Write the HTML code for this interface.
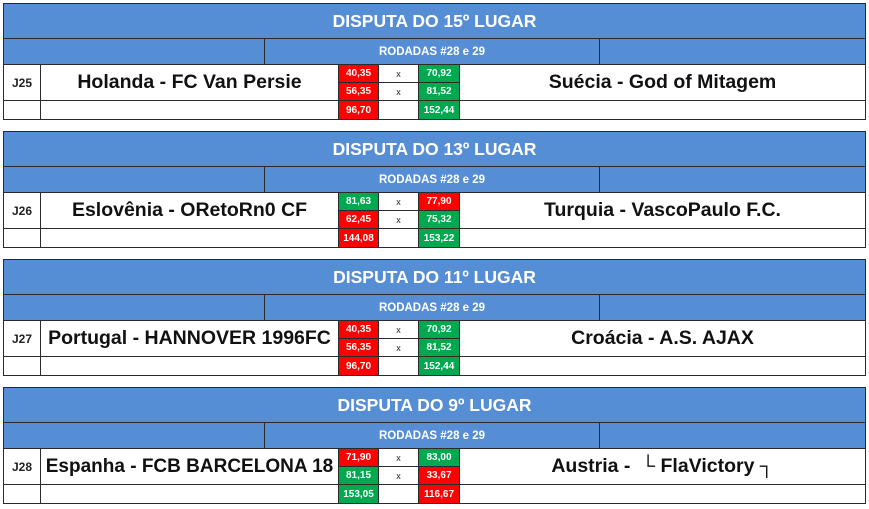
<!DOCTYPE html>
<html><head><meta charset="utf-8"><style>
body{margin:0;width:869px;height:509px;background:#fff;position:relative;overflow:hidden;font-family:"Liberation Sans",Arial,sans-serif;}
.b{position:absolute;left:3px;width:863px;height:117px;}
.c{position:absolute;box-sizing:border-box;border:1px solid #2b2b2b;display:flex;align-items:center;justify-content:center;font-weight:bold;white-space:nowrap;overflow:hidden}
.t{left:0;top:0;width:863px;height:36px;background:#558ed5;color:#fff;font-size:17.5px}
.s{top:35px;height:27px;background:#558ed5;color:#fff;font-size:11.5px}
.j{left:0;width:38px;font-size:12px;color:#222}
.n{font-size:19.5px;color:#111}
.v{font-size:10px;color:#fff;height:19px}
.r{background:#f00}.g{background:#00a84f}
.x{font-size:9px;color:#222;font-weight:normal}
</style></head><body>

<div class="b" style="top:3px">
<div class="c t">DISPUTA DO 15º LUGAR</div>
<div class="c s" style="left:0;width:262px"></div><div class="c s" style="left:261px;width:336px">RODADAS #28 e 29</div><div class="c s" style="left:596px;width:267px"></div>
<div class="c j" style="top:61px;height:37px">J25</div>
<div class="c n" style="left:37px;top:61px;width:299px;height:37px">Holanda - FC Van Persie</div>
<div class="c v r" style="left:335px;top:61px;width:41px">40,35</div><div class="c x" style="left:375px;top:61px;width:41px;height:19px">x</div><div class="c v g" style="left:415px;top:61px;width:42px">70,92</div>
<div class="c v r" style="left:335px;top:79px;width:41px">56,35</div><div class="c x" style="left:375px;top:79px;width:41px;height:19px">x</div><div class="c v g" style="left:415px;top:79px;width:42px">81,52</div>
<div class="c n" style="left:456px;top:61px;width:407px;height:37px">Suécia - God of Mitagem</div>
<div class="c" style="left:0;top:97px;width:38px;height:20px"></div><div class="c" style="left:37px;top:97px;width:299px;height:20px"></div>
<div class="c v r" style="left:335px;top:97px;width:41px;height:20px">96,70</div><div class="c" style="left:375px;top:97px;width:41px;height:20px"></div><div class="c v g" style="left:415px;top:97px;width:42px;height:20px">152,44</div>
<div class="c" style="left:456px;top:97px;width:407px;height:20px"></div>
</div>

<div class="b" style="top:131px">
<div class="c t">DISPUTA DO 13º LUGAR</div>
<div class="c s" style="left:0;width:262px"></div><div class="c s" style="left:261px;width:336px">RODADAS #28 e 29</div><div class="c s" style="left:596px;width:267px"></div>
<div class="c j" style="top:61px;height:37px">J26</div>
<div class="c n" style="left:37px;top:61px;width:299px;height:37px">Eslovênia - ORetoRn0 CF</div>
<div class="c v g" style="left:335px;top:61px;width:41px">81,63</div><div class="c x" style="left:375px;top:61px;width:41px;height:19px">x</div><div class="c v r" style="left:415px;top:61px;width:42px">77,90</div>
<div class="c v r" style="left:335px;top:79px;width:41px">62,45</div><div class="c x" style="left:375px;top:79px;width:41px;height:19px">x</div><div class="c v g" style="left:415px;top:79px;width:42px">75,32</div>
<div class="c n" style="left:456px;top:61px;width:407px;height:37px">Turquia - VascoPaulo F.C.</div>
<div class="c" style="left:0;top:97px;width:38px;height:20px"></div><div class="c" style="left:37px;top:97px;width:299px;height:20px"></div>
<div class="c v r" style="left:335px;top:97px;width:41px;height:20px">144,08</div><div class="c" style="left:375px;top:97px;width:41px;height:20px"></div><div class="c v g" style="left:415px;top:97px;width:42px;height:20px">153,22</div>
<div class="c" style="left:456px;top:97px;width:407px;height:20px"></div>
</div>

<div class="b" style="top:259px">
<div class="c t">DISPUTA DO 11º LUGAR</div>
<div class="c s" style="left:0;width:262px"></div><div class="c s" style="left:261px;width:336px">RODADAS #28 e 29</div><div class="c s" style="left:596px;width:267px"></div>
<div class="c j" style="top:61px;height:37px">J27</div>
<div class="c n" style="left:37px;top:61px;width:299px;height:37px">Portugal - HANNOVER 1996FC</div>
<div class="c v r" style="left:335px;top:61px;width:41px">40,35</div><div class="c x" style="left:375px;top:61px;width:41px;height:19px">x</div><div class="c v g" style="left:415px;top:61px;width:42px">70,92</div>
<div class="c v r" style="left:335px;top:79px;width:41px">56,35</div><div class="c x" style="left:375px;top:79px;width:41px;height:19px">x</div><div class="c v g" style="left:415px;top:79px;width:42px">81,52</div>
<div class="c n" style="left:456px;top:61px;width:407px;height:37px">Croácia - A.S. AJAX</div>
<div class="c" style="left:0;top:97px;width:38px;height:20px"></div><div class="c" style="left:37px;top:97px;width:299px;height:20px"></div>
<div class="c v r" style="left:335px;top:97px;width:41px;height:20px">96,70</div><div class="c" style="left:375px;top:97px;width:41px;height:20px"></div><div class="c v g" style="left:415px;top:97px;width:42px;height:20px">152,44</div>
<div class="c" style="left:456px;top:97px;width:407px;height:20px"></div>
</div>

<div class="b" style="top:387px">
<div class="c t">DISPUTA DO 9º LUGAR</div>
<div class="c s" style="left:0;width:262px"></div><div class="c s" style="left:261px;width:336px">RODADAS #28 e 29</div><div class="c s" style="left:596px;width:267px"></div>
<div class="c j" style="top:61px;height:37px">J28</div>
<div class="c n" style="left:37px;top:61px;width:299px;height:37px;font-size:19px">Espanha - FCB BARCELONA 18</div>
<div class="c v r" style="left:335px;top:61px;width:41px">71,90</div><div class="c x" style="left:375px;top:61px;width:41px;height:19px">x</div><div class="c v g" style="left:415px;top:61px;width:42px">83,00</div>
<div class="c v g" style="left:335px;top:79px;width:41px">81,15</div><div class="c x" style="left:375px;top:79px;width:41px;height:19px">x</div><div class="c v r" style="left:415px;top:79px;width:42px">33,67</div>
<div class="c n" style="left:456px;top:61px;width:407px;height:37px">Austria - &nbsp;└ FlaVictory ┐</div>
<div class="c" style="left:0;top:97px;width:38px;height:20px"></div><div class="c" style="left:37px;top:97px;width:299px;height:20px"></div>
<div class="c v g" style="left:335px;top:97px;width:41px;height:20px">153,05</div><div class="c" style="left:375px;top:97px;width:41px;height:20px"></div><div class="c v r" style="left:415px;top:97px;width:42px;height:20px">116,67</div>
<div class="c" style="left:456px;top:97px;width:407px;height:20px"></div>
</div>

</body></html>
